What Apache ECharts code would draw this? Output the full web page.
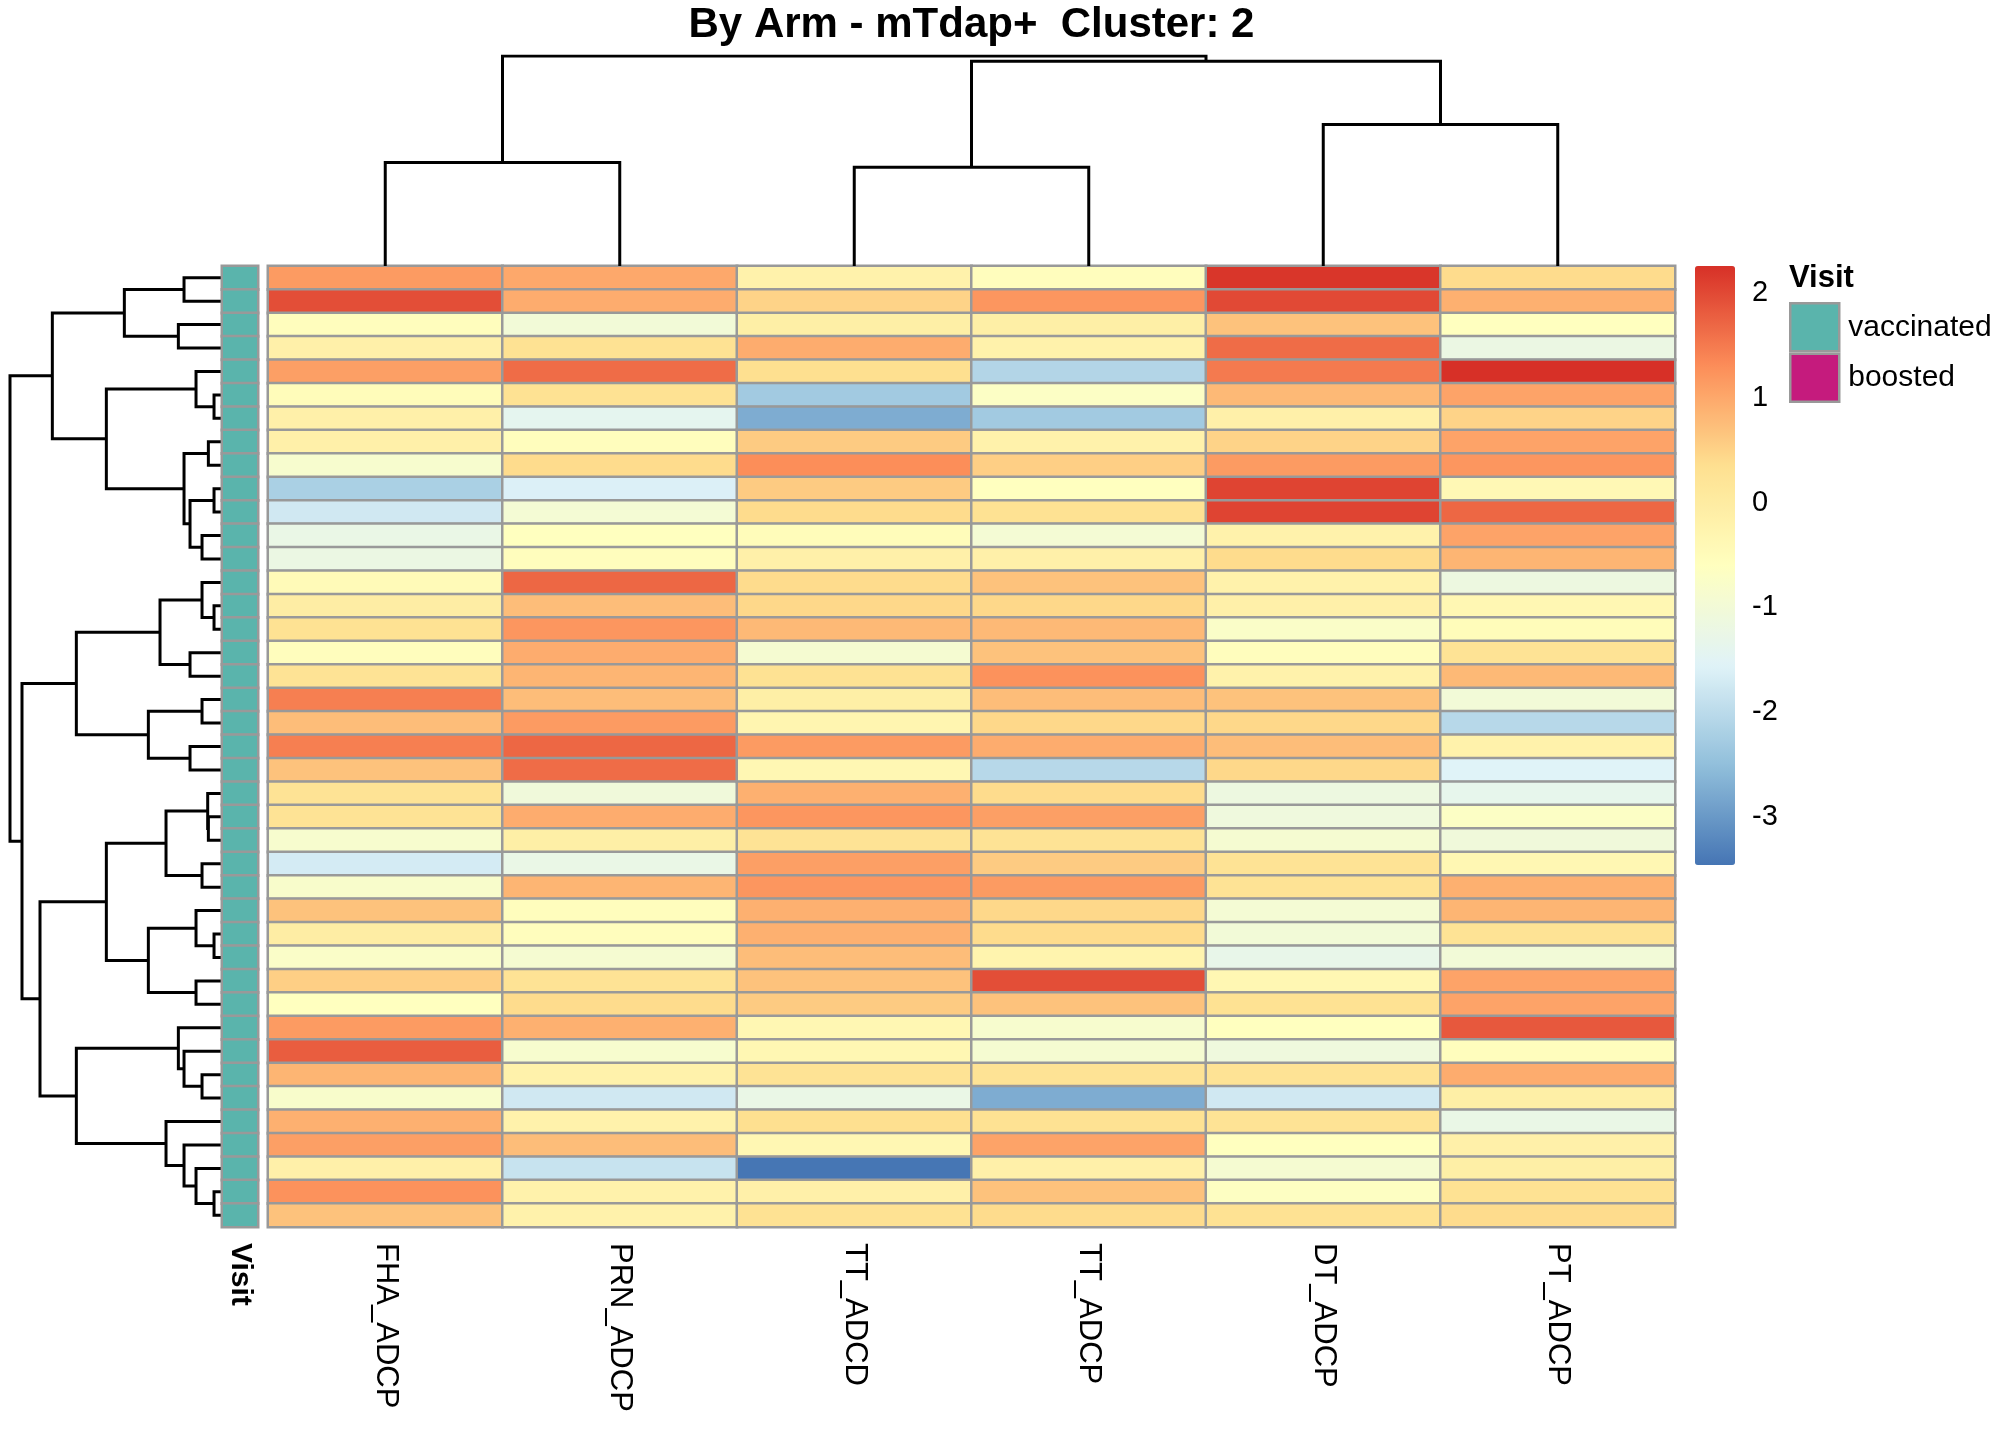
<!DOCTYPE html>
<html>
<head>
<meta charset="utf-8">
<title>By Arm - mTdap+ Cluster: 2</title>
<script src="https://cdn.jsdelivr.net/npm/echarts@6.0.0/dist/echarts.min.js"></script>
<style>
  html, body { margin: 0; padding: 0; background: #fff; }
  #chart { width: 2016px; height: 1440px; }
</style>
</head>
<body>
<div id="chart"></div>
<script>
// column order as drawn (after clustering)
const colNames = ['FHA_ADCP', 'PRN_ADCP', 'TT_ADCD', 'TT_ADCP', 'DT_ADCP', 'PT_ADCP'];
const rowCount = 41;

// scaled values, one array per column, rows top -> bottom
const fhaAdcp = [1.15, 1.95, -0.55, -0.15, 1.1, -0.5, -0.15, -0.15, -0.85, -2.2, -1.75, -1.25, -1.2, -0.45, -0.05, 0.3, -0.55, 0.25, 1.45, 0.75,
  1.45, 0.7, 0.25, 0.25, -0.85, -1.7, -0.8, 0.7, -0.05, -0.75, 0.55, -0.6, 1.15, 1.8, 0.85, -0.8, 0.9, 1.1, -0.15, 1.25, 0.7];
const prnAdcp = [1.0, 0.95, -1.0, 0.3, 1.65, 0.3, -1.4, -0.55, 0.4, -1.6, -0.95, -0.6, -0.55, 1.7, 0.75, 1.2, 0.95, 0.85, 0.75, 1.15,
  1.7, 1.65, -1.05, 0.95, -0.1, -1.25, 0.85, -0.55, -0.55, -0.9, 0.25, 0.4, 0.9, -0.85, -0.2, -1.75, -0.2, 0.75, -1.85, -0.2, -0.2];
const ttAdcd = [-0.2, 0.5, -0.1, 0.95, 0.35, -2.3, -2.75, 0.6, 1.3, 0.6, 0.4, -0.5, -0.15, 0.4, 0.45, 0.8, -0.9, 0.3, -0.1, -0.3,
  1.15, -0.35, 0.9, 1.2, 0.25, 1.1, 1.2, 0.9, 0.9, 0.75, 0.7, 0.6, -0.35, -0.35, 0.25, -1.25, 0.35, -0.35, -3.45, -0.15, 0.3];
const ttAdcp = [-0.55, 1.2, -0.1, -0.2, -2.1, -0.7, -2.3, -0.2, 0.55, -0.6, 0.3, -0.95, -0.15, 0.7, 0.45, 0.8, 0.7, 1.25, 0.75, 0.45,
  0.95, -2.05, 0.4, 1.1, 0.25, 0.6, 1.15, 0.45, 0.4, -0.25, 1.95, 0.7, -0.85, -0.9, 0.25, -2.75, 0.3, 1.05, -0.15, 0.7, 0.4];
const dtAdcp = [2.2, 2.0, 0.7, 1.65, 1.5, 0.8, -0.15, 0.5, 1.15, 2.05, 2.05, -0.2, 0.4, -0.2, -0.15, -0.75, -0.55, -0.2, 0.7, 0.45,
  0.75, 0.45, -1.15, -1.1, -0.9, 0.25, 0.25, -0.95, -1.0, -1.3, -0.35, 0.3, -0.6, -1.1, 0.25, -1.75, 0.25, -0.6, -0.9, -0.65, 0.3];
const ptAdcp = [0.4, 0.9, -0.6, -1.2, 2.26, 1.05, 0.5, 1.05, 1.2, -0.4, 1.7, 1.05, 0.85, -1.15, -0.35, -0.5, 0.25, 0.8, -1.0, -2.05,
  -0.2, -1.55, -1.35, -0.7, -1.05, -0.35, 0.9, 0.85, 0.25, -1.0, 1.05, 1.05, 1.85, -0.55, 0.95, -0.1, -1.25, -0.15, -0.1, 0.3, 0.4];

// Visit annotation per row
const visitLevels = ['vaccinated', 'boosted'];
const visitColors = ['#5AB4AC', '#C51B7D'];
const visit = new Array(rowCount).fill('vaccinated');

// colour scale (rev RdYlBu, 7) and its range
const scaleColors = ['#4575B4', '#91BFDB', '#E0F3F8', '#FFFFBF', '#FEE090', '#FC8D59', '#D73027'];
const scaleMin = -3.46;
const scaleMax = 2.26;
const scaleTicks = [-3, -2, -1, 0, 1, 2];

// hclust-style merges: negative = leaf (1-based, drawn order), positive = earlier merge
const rowMerge = [
  [-1, -2, 110], [-3, -4, 127], [1, 2, 289], [-6, -7, 20], [-5, 4, 74],
  [-8, -9, 37], [-10, -11, 20], [-12, -13, 56], [7, 8, 92], [6, 9, 110],
  [5, 10, 343], [3, 11, 505], [-15, -16, 20], [-14, 13, 56], [-17, -18, 92],
  [14, 15, 182], [-19, -20, 56], [-21, -22, 92], [17, 18, 217], [16, 19, 433],
  [-24, -25, 37], [-23, 21, 39], [-26, -27, 56], [22, 23, 164], [-29, -30, 20],
  [-28, 25, 74], [-31, -32, 74], [26, 27, 217], [24, 28, 343], [-35, -36, 56],
  [-34, 30, 110], [-33, 31, 127], [-40, -41, 20], [-39, 33, 74], [-38, 34, 110],
  [-37, 35, 164], [32, 36, 433], [29, 37, 542], [20, 38, 596], [12, 39, 632]
];
const colMerge = [
  [-1, -2, 103.4], [-3, -4, 98.7], [-5, -6, 141.4], [2, 3, 204.4], [1, 4, 209.7]
];

const columns = [fhaAdcp, prnAdcp, ttAdcd, ttAdcp, dtAdcp, ptAdcp];
const rowIds = Array.from({ length: rowCount }, (_, i) => 'r' + (i + 1));

const heatData = [];
columns.forEach((col, c) => {
  col.forEach((v, r) => heatData.push([c, r, v]));
});

const visitData = visit.map((v, r) => [0, r, visitLevels.indexOf(v)]);

// turn merges into elbow polylines; leaves sit at k - 0.5
function dendroLines(merges, horizontal) {
  const nodes = [];
  const out = [];
  const ref = i => (i < 0 ? { pos: -i - 0.5, h: 0 } : nodes[i - 1]);
  const pt = (pos, h) => (horizontal ? [h, pos] : [pos, h]);
  merges.forEach(([a, b, h]) => {
    const l = ref(a);
    const r = ref(b);
    out.push({ coords: [pt(l.pos, l.h), pt(l.pos, h), pt(r.pos, h), pt(r.pos, r.h)] });
    nodes.push({ pos: (l.pos + r.pos) / 2, h: h });
  });
  return { lines: out, top: nodes[nodes.length - 1].h };
}

const rowDendro = dendroLines(rowMerge, true);
const colDendro = dendroLines(colMerge, false);

const font = 'Liberation Sans, Arial, Helvetica, sans-serif';
const heatTop = 266;
const heatHeight = 961;
const heatLeft = 268;
const heatWidth = 1407;

const chart = echarts.init(document.getElementById('chart'));

const option = {
  animation: false,
  backgroundColor: '#fff',
  textStyle: { fontFamily: font, color: '#000' },
  title: [{
    text: 'By Arm - mTdap+  Cluster: 2',
    left: heatLeft + heatWidth / 2,
    top: 4,
    padding: 0,
    textAlign: 'center',
    textStyle: { fontFamily: font, fontSize: 42, fontWeight: 'bold', color: '#000' }
  }, {
    text: 'Visit',
    left: 1789,
    top: 263,
    padding: 0,
    textStyle: { fontFamily: font, fontSize: 31, fontWeight: 'bold', color: '#000' }
  }],
  legend: {
    data: visitLevels,
    orient: 'vertical',
    left: 1789,
    top: 302,
    padding: 0,
    itemGap: 0,
    itemWidth: 49,
    itemHeight: 48,
    icon: 'rect',
    selectedMode: false,
    itemStyle: { borderColor: '#999999', borderWidth: 2.5 },
    textStyle: { fontFamily: font, fontSize: 30, color: '#000', padding: [0, 0, 0, 4] }
  },
  visualMap: {
    type: 'continuous',
    seriesIndex: 0,
    min: scaleMin,
    max: scaleMax,
    calculable: false,
    realtime: false,
    left: 1695,
    top: heatTop,
    padding: 0,
    itemWidth: 40,
    itemHeight: 599,
    inRange: { color: scaleColors }
  },
  grid: [
    { left: heatLeft, top: heatTop, width: heatWidth, height: heatHeight },           // heatmap
    { left: 222, top: heatTop, width: 36, height: heatHeight },                       // annotation
    { left: 10, top: heatTop, width: 210.7, height: heatHeight },                     // row tree
    { left: heatLeft, top: heatTop - 210, width: heatWidth, height: 210 },            // col tree
    { left: 1695, top: heatTop, width: 40, height: 599 }                              // scale ticks
  ],
  xAxis: [
    {
      gridIndex: 0, type: 'category', data: colNames, position: 'bottom',
      axisLine: { show: false }, axisTick: { show: false }, splitLine: { show: false },
      axisLabel: { rotate: -90, fontSize: 31, color: '#000', fontFamily: font, margin: 16, interval: 0 }
    },
    {
      gridIndex: 1, type: 'category', data: ['Visit'], position: 'bottom',
      axisLine: { show: false }, axisTick: { show: false },
      axisLabel: { rotate: -90, fontSize: 30, fontWeight: 'bold', color: '#000', fontFamily: font, margin: 16 }
    },
    { gridIndex: 2, type: 'value', min: 0, max: rowDendro.top, inverse: true, show: false },
    { gridIndex: 3, type: 'value', min: 0, max: colNames.length, show: false },
    { gridIndex: 4, type: 'value', min: 0, max: 1, show: false }
  ],
  yAxis: [
    { gridIndex: 0, type: 'category', data: rowIds, inverse: true, show: false },
    { gridIndex: 1, type: 'category', data: rowIds, inverse: true, show: false },
    { gridIndex: 2, type: 'value', min: 0, max: rowCount, inverse: true, show: false },
    { gridIndex: 3, type: 'value', min: 0, max: colDendro.top, show: false },
    {
      gridIndex: 4, type: 'value', min: scaleMin, max: scaleMax, position: 'right',
      axisLine: { show: false }, axisTick: { show: false }, splitLine: { show: false },
      axisLabel: { customValues: scaleTicks, fontSize: 29, color: '#000', fontFamily: font, margin: 17 }
    }
  ],
  series: [
    {
      name: 'values',
      type: 'heatmap',
      xAxisIndex: 0,
      yAxisIndex: 0,
      data: heatData,
      itemStyle: { borderColor: '#999999', borderWidth: 2.5 },
      emphasis: { disabled: true }
    },
    {
      name: 'vaccinated',
      type: 'heatmap',
      xAxisIndex: 1,
      yAxisIndex: 1,
      data: visitData.filter(d => d[2] === 0),
      itemStyle: { color: visitColors[0], borderColor: '#999999', borderWidth: 2.5 },
      emphasis: { disabled: true }
    },
    {
      name: 'boosted',
      type: 'heatmap',
      xAxisIndex: 1,
      yAxisIndex: 1,
      data: visitData.filter(d => d[2] === 1),
      itemStyle: { color: visitColors[1], borderColor: '#999999', borderWidth: 2.5 },
      emphasis: { disabled: true }
    },
    {
      name: 'rowTree',
      type: 'lines',
      coordinateSystem: 'cartesian2d',
      xAxisIndex: 2,
      yAxisIndex: 2,
      polyline: true,
      silent: true,
      lineStyle: { color: '#000', width: 3, opacity: 1 },
      data: rowDendro.lines
    },
    {
      name: 'colTree',
      type: 'lines',
      coordinateSystem: 'cartesian2d',
      xAxisIndex: 3,
      yAxisIndex: 3,
      polyline: true,
      silent: true,
      lineStyle: { color: '#000', width: 3, opacity: 1 },
      data: colDendro.lines
    }
  ]
};

chart.setOption(option);
</script>
</body>
</html>
